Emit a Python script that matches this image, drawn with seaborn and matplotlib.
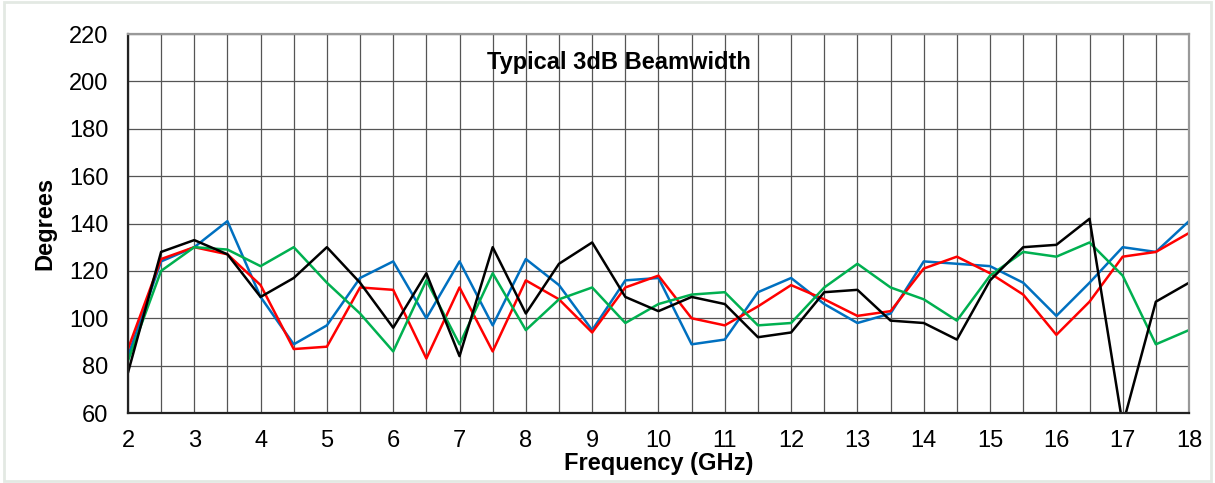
"""
Typical 3dB beamwidth vs frequency, four measured curves.
"""

import numpy as np
import pandas as pd
import seaborn as sns
import matplotlib

matplotlib.use("Agg")
import matplotlib.pyplot as plt
from matplotlib.patches import Rectangle

# 周波数 (GHz) 2〜18, 0.5 刻み
freq = np.arange(2.0, 18.01, 0.5)

blue = [84, 124, 130, 141, 109, 89, 97, 117, 124, 100, 124, 97, 125, 114, 95,
        116, 117, 89, 91, 111, 117, 106, 98, 102, 124, 123, 122, 115, 101, 115,
        130, 128, 141]
red = [87, 125, 130, 127, 114, 87, 88, 113, 112, 83, 113, 86, 116, 108, 94,
       113, 118, 100, 97, 105, 114, 108, 101, 103, 121, 126, 119, 110, 93, 107,
       126, 128, 136]
green = [82, 120, 130, 129, 122, 130, 115, 102, 86, 116, 89, 119, 95, 108, 113,
         98, 106, 110, 111, 97, 98, 113, 123, 113, 108, 99, 118, 128, 126, 132,
         118, 89, 95]
black = [77, 128, 133, 127, 109, 117, 130, 115, 96, 119, 84, 130, 102, 123, 132,
         109, 103, 109, 106, 92, 94, 111, 112, 99, 98, 91, 116, 130, 131, 142,
         55, 107, 115]

series = {"blue": blue, "red": red, "green": green, "black": black}
palette = {"blue": "#0070C0", "red": "#FF0000", "green": "#00B050", "black": "#000000"}

df = pd.concat(
    [pd.DataFrame({"freq": freq, "deg": v, "curve": k}) for k, v in series.items()],
    ignore_index=True,
)

sns.set_style("white")
plt.rcParams["font.family"] = ["Liberation Sans", "DejaVu Sans"]
plt.rcParams.update({"text.color": "black", "axes.labelcolor": "black",
                     "xtick.color": "black", "ytick.color": "black"})

fig = plt.figure(figsize=(12.15, 4.83), dpi=100)
ax = fig.add_axes([0.1053, 0.1449, 0.8733, 0.7847])

sns.lineplot(
    data=df, x="freq", y="deg", hue="curve", palette=palette,
    linewidth=1.8, legend=False, ax=ax, sort=False,
)

ax.set_xlim(2, 18)
ax.set_ylim(60, 220)
ax.set_xticks(np.arange(2, 19, 1))
ax.set_xticks(np.arange(2.5, 18, 1), minor=True)
ax.set_yticks(np.arange(60, 221, 20))
ax.grid(True, which="both", axis="x", color="#555555", linewidth=0.9)
ax.grid(True, which="major", axis="y", color="#555555", linewidth=0.9)
ax.set_axisbelow(True)

ax.tick_params(axis="both", which="major", labelsize=17, direction="out",
               length=5, width=0.9, color="#555555")
ax.tick_params(axis="y", which="major", pad=9)
ax.tick_params(axis="x", which="major", pad=7)
ax.tick_params(axis="x", which="minor", length=0)

for side in ["left", "bottom"]:
    ax.spines[side].set_color("#222222")
    ax.spines[side].set_linewidth(1.6)
for side in ["top", "right"]:
    ax.spines[side].set_color("#999999")
    ax.spines[side].set_linewidth(1.6)

ax.set_xlabel("Frequency (GHz)", fontsize=17, fontweight="bold", labelpad=0)
ax.set_ylabel("Degrees", fontsize=17, fontweight="bold", labelpad=9)
ax.text(0.463, 0.925, "Typical 3dB Beamwidth", transform=ax.transAxes,
        ha="center", va="center", fontsize=17, fontweight="bold")

# 外枠 (チャートエリアの枠)
fig.patches.append(Rectangle((0.003, 0.005), 0.994, 0.99, transform=fig.transFigure,
                             fill=False, edgecolor="#e3e9e3", linewidth=2))

fig.savefig("out.png", dpi=100)
plt.close(fig)
